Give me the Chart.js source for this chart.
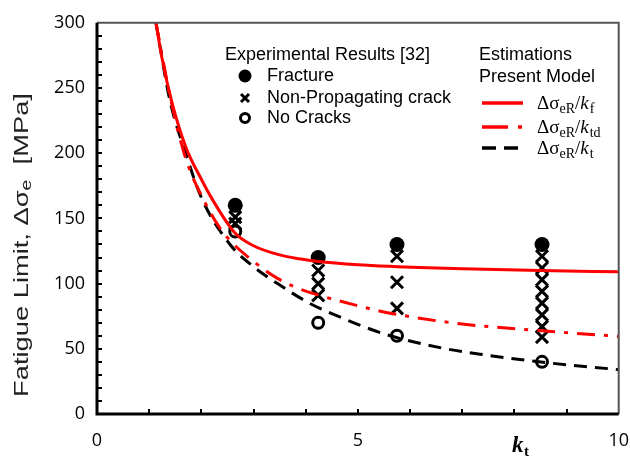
<!DOCTYPE html>
<html>
<head>
<meta charset="utf-8">
<script src="https://cdn.jsdelivr.net/npm/chart.js@4.4.0/dist/chart.umd.min.js"></script>
<style>
html, body { margin: 0; padding: 0; background: #fff; overflow: hidden; width: 630px; height: 456px; }
</style>
</head>
<body>
<canvas id="c" width="645" height="456"></canvas>
<script>
// curves (k, fatigue limit in MPa)
const kF = [1.13, 1.25, 1.43, 1.7, 2.0, 2.22, 2.64, 3.0, 3.5, 3.88, 4.24, 5.0, 5.75, 6.18, 7.0, 8.5, 10];
const sigF = [300, 272, 240, 205, 180, 164, 139, 129, 122, 119, 117, 114.5, 113, 112.3, 111.3, 110, 109];

const kTd = [1.13, 1.42, 1.7, 2.06, 2.35, 2.6, 3.0, 3.46, 3.88, 4.26, 5.0, 5.41, 6.18, 7.0, 8.47, 10];
const sigTd = [300, 240, 196, 163, 143, 131, 117, 104, 96, 91, 83, 79, 73.5, 69, 64, 59.5];

const kT = [1.13, 1.4, 1.7, 2.0, 2.55, 3.0, 3.46, 4.07, 4.5, 5.54, 6.69, 7.5, 8.47, 10];
const sigT = [300, 240, 200, 166, 130, 113, 100, 85, 77, 61, 50, 45, 40, 34];

// experimental results
const fracK = [2.65, 4.24, 5.75, 8.53];
const fracS = [160, 120, 130, 130];
const npcK = [2.65, 2.65, 4.24, 4.24, 4.24, 5.75, 5.75, 5.75, 8.53, 8.53, 8.53, 8.53, 8.53, 8.53, 8.53, 8.53];
const npcS = [151, 146, 110, 100, 91, 121, 101, 81, 121, 112, 103, 94, 85, 76, 67, 59];
const noK = [2.65, 4.24, 5.75, 8.53];
const noS = [140, 70, 60, 40];

const xTicks = [0, 5, 10];
const yTicks = [0, 50, 100, 150, 200, 250, 300];

const pts = (xs, ys) => xs.map((v, i) => ({ x: v, y: ys[i] }));

function mathLabel(ctx, x, y, sub) {
  const big = '19px "Liberation Serif"';
  const small = '14px "Liberation Serif"';
  ctx.textAlign = 'left';
  ctx.textBaseline = 'alphabetic';
  ctx.font = big; ctx.fillText('Δσ', x, y); x += ctx.measureText('Δσ').width;
  ctx.font = small; ctx.fillText('eR', x, y + 4); x += ctx.measureText('eR').width;
  ctx.font = big; ctx.fillText('/', x, y); x += ctx.measureText('/').width;
  ctx.font = 'italic ' + big; ctx.fillText('k', x, y); x += ctx.measureText('k').width + 1;
  ctx.font = small; ctx.fillText(sub, x, y + 4);
}

const decor = {
  id: 'decor',
  afterDatasetsDraw(chart) {
    const { ctx, chartArea: a, scales: { x, y } } = chart;
    ctx.save();
    // frame
    ctx.strokeStyle = '#555';
    ctx.lineWidth = 2;
    ctx.beginPath();
    ctx.moveTo(a.left, a.top); ctx.lineTo(a.right, a.top); ctx.lineTo(a.right, a.bottom);
    ctx.stroke();
    ctx.strokeStyle = '#000';
    ctx.lineWidth = 3;
    ctx.beginPath();
    ctx.moveTo(a.left, a.top); ctx.lineTo(a.left, a.bottom); ctx.lineTo(a.right, a.bottom);
    ctx.stroke();
    // inner minor ticks
    ctx.lineWidth = 2;
    ctx.beginPath();
    for (let v = 10; v < 300; v += 10) {
      const py = Math.round(y.getPixelForValue(v));
      ctx.moveTo(a.left, py); ctx.lineTo(a.left + 5, py);
    }
    for (let v = 1; v < 10; v++) {
      const px = Math.round(x.getPixelForValue(v));
      ctx.moveTo(px, a.bottom); ctx.lineTo(px, a.bottom - 5);
    }
    ctx.stroke();
    ctx.restore();
  },
  afterDraw(chart) {
    const { ctx } = chart;
    ctx.save();
    ctx.fillStyle = '#000';
    ctx.strokeStyle = '#000';

    // y axis title (stretched along its length like the original figure)
    ctx.save();
    ctx.translate(22, 245);
    ctx.rotate(-Math.PI / 2);
    ctx.scale(1.3, 1);
    const f1 = '21px "Liberation Sans"', f2 = '15px "Liberation Sans"';
    const parts = [['Fatigue Limit, Δσ', f1, 0], ['e', f2, 5], ['  [MPa]', f1, 0]];
    let w = 0;
    parts.forEach(p => { ctx.font = p[1]; w += ctx.measureText(p[0]).width; });
    let cx = -w / 2;
    ctx.textBaseline = 'middle';
    ctx.fillStyle = '#222';
    parts.forEach(p => { ctx.font = p[1]; ctx.fillText(p[0], cx, p[2]); cx += ctx.measureText(p[0]).width; });
    ctx.restore();

    // x axis title k_t
    ctx.textBaseline = 'alphabetic';
    ctx.font = 'bold italic 23px "Liberation Serif"';
    ctx.fillText('k', 512, 452);
    ctx.font = 'bold 15px "Liberation Serif"';
    ctx.fillText('t', 524, 456);

    // legend, left block
    ctx.font = '18px "Liberation Sans"';
    ctx.textBaseline = 'middle';
    ctx.fillText('Experimental Results [32]', 225, 55);
    ctx.fillText('Fracture', 267, 76);
    ctx.fillText('Non-Propagating crack', 267, 98);
    ctx.fillText('No Cracks', 267, 118);
    ctx.beginPath(); ctx.arc(245, 76, 6.5, 0, Math.PI * 2); ctx.fill();
    ctx.lineWidth = 3;
    ctx.beginPath();
    ctx.moveTo(241, 94); ctx.lineTo(249, 102); ctx.moveTo(249, 94); ctx.lineTo(241, 102);
    ctx.stroke();
    ctx.beginPath(); ctx.arc(245, 118, 4.5, 0, Math.PI * 2); ctx.stroke();

    // legend, right block
    ctx.fillText('Estimations', 479, 55);
    ctx.fillText('Present Model', 479, 77);
    const rows = [[103, 'f', '#ff0000', []], [127, 'td', '#ff0000', [26, 10, 4, 10]], [148, 't', '#000', [14, 8]]];
    rows.forEach(r => {
      ctx.strokeStyle = r[2];
      ctx.lineWidth = 3.5;
      ctx.setLineDash(r[3]);
      ctx.beginPath(); ctx.moveTo(482, r[0]); ctx.lineTo(523, r[0]); ctx.stroke();
      ctx.setLineDash([]);
      mathLabel(ctx, 537, r[0] + 6, r[1]);
    });
    ctx.restore();
  }
};

const lineBase = { showLine: true, pointRadius: 0, borderWidth: 3, cubicInterpolationMode: 'monotone', fill: false };

new Chart(document.getElementById('c'), {
  type: 'scatter',
  data: {
    datasets: [
      Object.assign({ data: pts(kF, sigF), borderColor: '#ff0000' }, lineBase),
      Object.assign({ data: pts(kTd, sigTd), borderColor: '#ff0000', borderDash: [18, 9, 4, 9] }, lineBase),
      Object.assign({ data: pts(kT, sigT), borderColor: '#000', borderDash: [13, 8] }, lineBase),
      { data: pts(fracK, fracS), pointStyle: 'circle', pointRadius: 7.5, backgroundColor: '#000', borderColor: '#000', borderWidth: 0 },
      { data: pts(npcK, npcS), pointStyle: 'crossRot', pointRadius: 8.5, borderColor: '#000', borderWidth: 3 },
      { data: pts(noK, noS), pointStyle: 'circle', pointRadius: 5.5, backgroundColor: '#fff', borderColor: '#000', borderWidth: 3 }
    ]
  },
  options: {
    responsive: false,
    animation: false,
    layout: { padding: { left: 0, top: 21, right: 0, bottom: 0 } },
    plugins: { legend: { display: false }, tooltip: { enabled: false } },
    scales: {
      x: {
        type: 'linear', min: 0, max: 10,
        afterBuildTicks: s => { s.ticks = xTicks.map(v => ({ value: v })); },
        ticks: { color: '#000', font: { family: 'Open Sans', size: 18 }, padding: 16, maxRotation: 0 },
        grid: { display: false, drawTicks: false },
        border: { display: false },
        afterFit: s => { s.height = 42; }
      },
      y: {
        min: 0, max: 300,
        afterBuildTicks: s => { s.ticks = yTicks.map(v => ({ value: v })); },
        ticks: { color: '#000', font: { family: 'Open Sans', size: 18 }, padding: 12 },
        grid: { display: false, drawTicks: false },
        border: { display: false },
        afterFit: s => { s.width = 97; }
      }
    }
  },
  plugins: [decor]
});
</script>
</body>
</html>
